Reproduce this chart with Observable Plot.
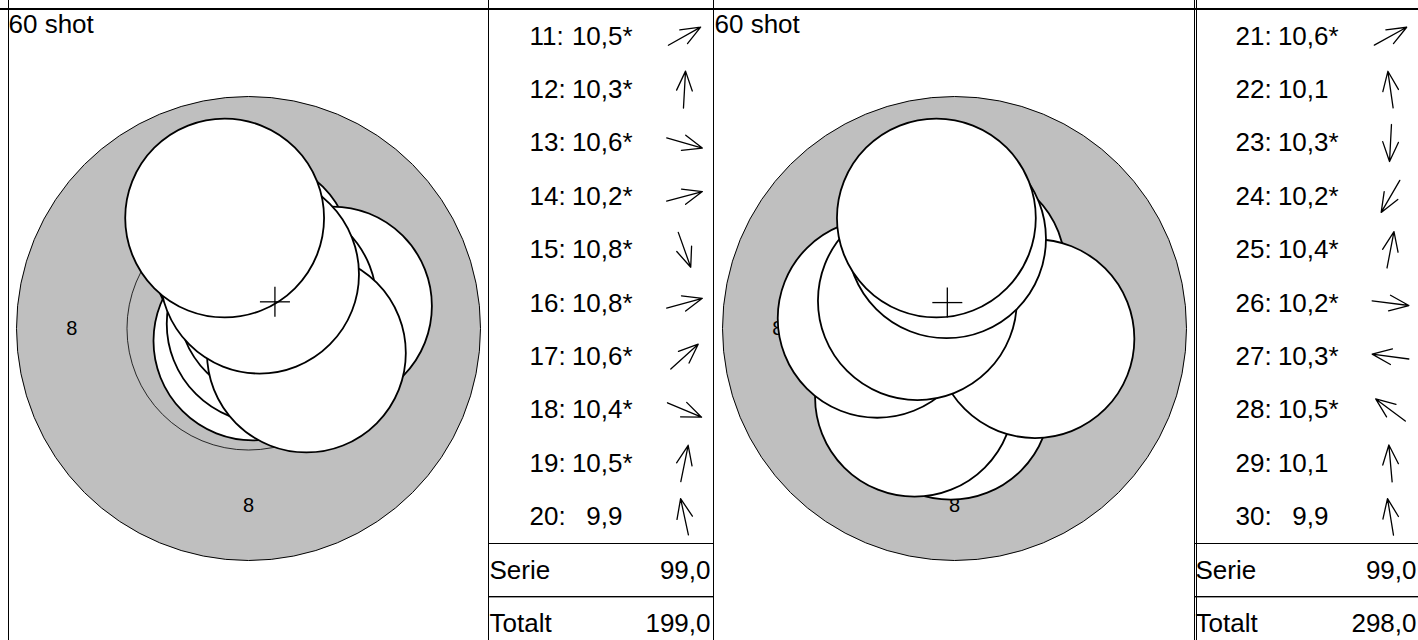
<!DOCTYPE html>
<html>
<head>
<meta charset="utf-8">
<script src="https://cdn.jsdelivr.net/npm/d3@7"></script>
<script src="https://cdn.jsdelivr.net/npm/@observablehq/plot@0.6"></script>
<style>
  html, body { margin: 0; padding: 0; background: #fff; }
  #root { position: relative; width: 1418px; height: 640px; overflow: hidden; background: #fff;
          font-family: "Liberation Sans", Arial, Helvetica, sans-serif; }
  .blk { position: absolute; }
  .ln { position: absolute; background: #000; }
</style>
</head>
<body>
<div id="root"></div>
<script>
// ---------------- data ----------------
const seriesTitle = "60 shot";
const summaryLabels = ["Serie", "Totalt"];

// target rings (10 m air rifle): ring value and radius in mm
const ringValues = [8, 9];
const ringRadii = [5.25, 2.75];
const pelletDiameter = 4.5; // mm

// series A (shots 11-20)
const shotNumA = [11, 12, 13, 14, 15, 16, 17, 18, 19, 20];
const scoreA   = [10.5, 10.3, 10.6, 10.2, 10.8, 10.8, 10.6, 10.4, 10.5, 9.9];
const innerA   = [true, true, true, true, true, true, true, true, true, false];
const shotXA   = [0.98, 0.09, 0.84, 1.90, 0.10, 0.40, 0.65, 1.31, 0.25, -0.54]; // mm
const shotYA   = [0.55, 1.62, -0.24, 0.51, -0.28, 0.11, 0.59, -0.555, 1.23, 2.50]; // mm
const summaryA = [99.0, 199.0];

// series B (shots 21-30)
const shotNumB = [21, 22, 23, 24, 25, 26, 27, 28, 29, 30];
const scoreB   = [10.6, 10.1, 10.3, 10.2, 10.4, 10.2, 10.3, 10.5, 10.1, 9.9];
const innerB   = [true, false, true, true, true, true, true, true, false, false];
const shotXB   = [0.765, -0.30, -0.085, -0.905, 0.26, 1.82, -1.75, -0.84, -0.18, -0.41];
const shotYB   = [0.424, 2.10, -1.623, -1.555, 1.36, -0.23, 0.23, 0.63, 2.03, 2.50];
const summaryB = [99.0, 298.0];

// ---------------- layout ----------------
const FONT = '"Liberation Sans", Arial, Helvetica, sans-serif';
const PX_PER_MM = 232 / 5.25;
const TOP = 9, PANEL_H = 640 - TOP;
const TARGET_W = 480, TABLE_W = 225, ROW_H = 53.4;
const FS = 26;
const fmt = v => v.toFixed(1).replace(".", ",");

const root = document.getElementById("root");
function place(node, left, top) {
  node.classList.add("blk");
  node.style.left = left + "px";
  node.style.top = top + "px";
  root.appendChild(node);
}
function line(left, top, w, h) {
  const d = document.createElement("div");
  d.className = "ln";
  Object.assign(d.style, {left: left + "px", top: top + "px", width: w + "px", height: h + "px"});
  root.appendChild(d);
}

function makeShots(nums, scores, inner, xs, ys) {
  return nums.map((n, i) => ({num: n, score: scores[i], inner: inner[i], x: xs[i], y: ys[i], i}));
}

function targetPlot(shots) {
  const k = PX_PER_MM;
  const cx = TARGET_W / 2, cy = 319;
  const rings = ringValues.map((v, i) => ({ring: v, r: ringRadii[i]}));
  const labelR = (ringRadii[0] + ringRadii[1]) / 2;
  const labels = [[-1, 0], [0, -1]].map(([a, b]) => ({x: a * labelR, y: b * labelR, t: String(ringValues[0])}));
  const mean = {x: d3.mean(shots, d => d.x), y: d3.mean(shots, d => d.y)};
  const h = 15 / k;
  return Plot.plot({
    width: TARGET_W, height: PANEL_H, margin: 0,
    x: {domain: [-cx / k, (TARGET_W - cx) / k], range: [0, TARGET_W], axis: null},
    y: {domain: [-(PANEL_H - cy) / k, cy / k], range: [PANEL_H, 0], axis: null},
    r: {type: "linear", domain: [0, 5.25], range: [0, 5.25 * k]},
    style: {fontFamily: FONT, background: "transparent", overflow: "visible"},
    marks: [
      Plot.dot(rings.slice(0, 1), {x: () => 0, y: () => 0, r: d => d.r, fill: "#bfbfbf", stroke: "#000", strokeWidth: 1, sort: null}),
      Plot.dot(rings.slice(1), {x: () => 0, y: () => 0, r: d => d.r, fill: "none", stroke: "#000", strokeWidth: 0.8, sort: null}),
      Plot.text(labels, {x: "x", y: "y", text: "t", fontSize: 20, fill: "#000"}),
      Plot.dot(shots, {x: "x", y: "y", r: () => pelletDiameter / 2, fill: "#fff", stroke: "#000", strokeWidth: 1.8, sort: null}),
      Plot.link([mean], {x1: d => d.x - h, x2: d => d.x + h, y1: "y", y2: "y", stroke: "#000", strokeWidth: 1.3}),
      Plot.link([mean], {x1: "x", x2: "x", y1: d => d.y - h, y2: d => d.y + h, stroke: "#000", strokeWidth: 1.3}),
      Plot.text([seriesTitle], {frameAnchor: "top-left", text: d => d, fontSize: FS, lineAnchor: "top", dx: 0, dy: 5, fill: "#000"})
    ]
  });
}

const arrowShape = {
  draw(context, l) {
    const w = 21, a = 22 * Math.PI / 180;
    context.moveTo(0, 0);
    context.lineTo(0, -l);
    context.moveTo(-w * Math.sin(a), -l + w * Math.cos(a));
    context.lineTo(0, -l);
    context.lineTo(w * Math.sin(a), -l + w * Math.cos(a));
  }
};

function tablePlot(shots, summary) {
  const n = shots.length;
  const nRows = n + summaryLabels.length;
  const summaryRows = summaryLabels.map((lab, j) => ({lab, v: summary[j], row: n + j}));
  return Plot.plot({
    width: TABLE_W, height: PANEL_H, margin: 0,
    x: {domain: [0, TABLE_W], range: [0, TABLE_W], axis: null},
    y: {domain: [0, nRows], range: [0, ROW_H * nRows], axis: null},
    style: {fontFamily: FONT, background: "transparent"},
    marks: [
      Plot.text(shots, {x: () => 41, y: d => d.i + 0.5, text: d => d.num + ":", textAnchor: "start", fontSize: FS, fill: "#000"}),
      Plot.text(shots, {x: () => 134, y: d => d.i + 0.5, text: d => fmt(d.score), textAnchor: "end", fontSize: FS, fill: "#000"}),
      Plot.text(shots.filter(d => d.inner), {x: () => 134, y: d => d.i + 0.5, text: () => "*", textAnchor: "start", fontSize: FS, fill: "#000"}),
      Plot.vector(shots, {
        x: () => 196, y: d => d.i + 0.5, length: 37, anchor: "middle", shape: arrowShape,
        rotate: d => 90 - Math.atan2(d.y, d.x) * 180 / Math.PI,
        stroke: "#000", strokeWidth: 1.3
      }),
      Plot.ruleY(summaryRows, {y: d => d.row, stroke: "#000", strokeWidth: 1}),
      Plot.text(summaryRows, {x: () => 1, y: d => d.row + 0.5, text: "lab", textAnchor: "start", fontSize: FS, fill: "#000"}),
      Plot.text(summaryRows, {x: () => 222, y: d => d.row + 0.5, text: d => fmt(d.v), textAnchor: "end", fontSize: FS, fill: "#000"})
    ]
  });
}

const halves = [
  {ox: 0, shots: makeShots(shotNumA, scoreA, innerA, shotXA, shotYA), summary: summaryA},
  {ox: 706, shots: makeShots(shotNumB, scoreB, innerB, shotXB, shotYB), summary: summaryB}
];

for (const hf of halves) {
  place(targetPlot(hf.shots), 8 + hf.ox, TOP);
  place(tablePlot(hf.shots, hf.summary), 488 + hf.ox, TOP);
}

// frame lines
line(0, 8, 1418, 2);
for (const x of [8, 488, 713, 1194, 1196]) line(x - 0.5, 0, 1, 640);
for (const hf of halves) {
  line(488 + hf.ox, TOP + ROW_H * 10 - 0.5, TABLE_W, 1);
  line(488 + hf.ox, TOP + ROW_H * 11 - 0.5, TABLE_W, 1);
}
</script>
</body>
</html>
